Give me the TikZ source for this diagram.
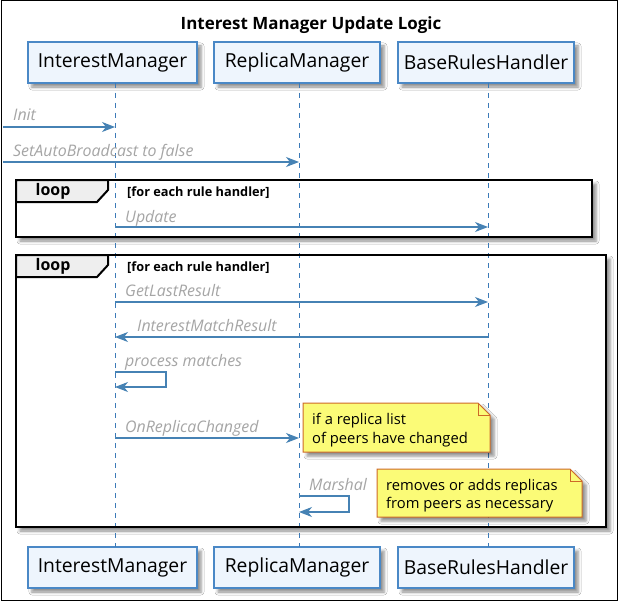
\documentclass[tikz,border=0pt]{standalone}
\usepackage{fontspec}
\setmainfont{Open Sans}
\usetikzlibrary{arrows.meta,shadows.blur}
\definecolor{partfill}{RGB}{238,245,253}
\definecolor{partborder}{RGB}{74,136,198}
\definecolor{lifec}{RGB}{60,122,184}
\definecolor{arrowc}{RGB}{70,130,180}
\definecolor{lblgray}{RGB}{165,165,165}
\definecolor{notefill}{RGB}{251,251,119}
\definecolor{noteborder}{RGB}{205,105,40}
\definecolor{tabfill}{RGB}{238,238,238}
\begin{document}
\begin{tikzpicture}[x=1bp,y={(0bp,-1bp)},
  partbox/.style={draw=partborder, line width=1.2bp, fill=partfill, minimum width=#1, minimum height=41bp, inner sep=0pt,
    font=\fontsize{19.4}{23}\selectfont,
    blur shadow={shadow xshift=4bp, shadow yshift=-4bp, shadow blur radius=3bp, shadow opacity=45}},
  lifeline/.style={draw=lifec, line width=1bp, dash pattern=on 5bp off 5bp},
  msg/.style={draw=arrowc, line width=1.1bp, -{Stealth[length=13bp,width=10bp,inset=4bp]}},
  lbl/.style={font=\fontsize{16}{19}\selectfont\itshape, text=lblgray, anchor=base west, inner sep=0pt},
  framebox/.style={fill=white, blur shadow={shadow xshift=4bp, shadow yshift=-4bp, shadow blur radius=3bp, shadow opacity=45}},
  frameline/.style={draw=black, line width=2.6bp},
  tabshape/.style={fill=tabfill, draw=black, line width=2bp},
  looplbl/.style={font=\fontsize{16}{19}\bfseries\selectfont, inner sep=0pt},
  guardlbl/.style={font=\fontsize{12.8}{15}\bfseries\selectfont, anchor=base west, inner sep=0pt},
  noteshape/.style={fill=notefill, draw=noteborder, line width=1bp,
    blur shadow={shadow xshift=4bp, shadow yshift=-4bp, shadow blur radius=3bp, shadow opacity=45}},
  notetext/.style={font=\fontsize{14.8}{18}\selectfont, anchor=base west, inner sep=0pt}
]
\useasboundingbox (0,0) rectangle (618,601);
\fill[white] (0,0) rectangle (618,601);
\draw[black, line width=1bp] (1,1) rectangle (617,600);

% title
\node[font=\fontsize{17}{20}\bfseries\selectfont, anchor=base, inner sep=0pt] (title) at (311,29.5) {Interest Manager Update Logic};

% frames (background + shadow)
\path[framebox] (16,180) rectangle (592,237);
\path[framebox] (16,255) rectangle (606,527);

% participants
\node[partbox=169bp] (p1t) at (112.5,62.5) {InterestManager};
\node[partbox=166bp] (p2t) at (297,62.5) {ReplicaManager};
\node[partbox=176bp] (p3t) at (486,62.5) {BaseRulesHandler};
\node[partbox=169bp] (p1b) at (112.5,567.5) {InterestManager};
\node[partbox=166bp] (p2b) at (297,567.5) {ReplicaManager};
\node[partbox=176bp] (p3b) at (486,567.5) {BaseRulesHandler};

% lifelines
\coordinate (l1t) at (115,83); \coordinate (l1b) at (115,547);
\coordinate (l2t) at (299,83); \coordinate (l2b) at (299,547);
\coordinate (l3t) at (488,83); \coordinate (l3b) at (488,547);
\draw[lifeline] (l1t) -- (l1b);
\draw[lifeline] (l2t) -- (l2b);
\draw[lifeline] (l3t) -- (l3b);

% frame borders and tabs
\draw[frameline] (16,180) rectangle (592,237);
\draw[tabshape] (16,180) -- (108,180) -- (108,190) -- (97,202) -- (16,202) -- cycle;
\node[looplbl] (loop1) at (53,191) {loop};
\node[guardlbl] (guard1) at (127,196) {[for each rule handler]};

\draw[frameline] (16,255) rectangle (606,527);
\draw[tabshape] (16,255) -- (108,255) -- (108,265) -- (97,277) -- (16,277) -- cycle;
\node[looplbl] (loop2) at (53,266) {loop};
\node[guardlbl] (guard2) at (127,271) {[for each rule handler]};

% messages
\coordinate (m1s) at (3,127); \coordinate (m1e) at (115,127);
\draw[msg] (m1s) -- (m1e);
\node[lbl] (t1) at (13,121) {Init};

\coordinate (m2s) at (3,162); \coordinate (m2e) at (299,162);
\draw[msg] (m2s) -- (m2e);
\node[lbl] (t2) at (13,157) {SetAutoBroadcast to false};

\coordinate (m3s) at (115,227); \coordinate (m3e) at (488,227);
\draw[msg] (m3s) -- (m3e);
\node[lbl] (t3) at (125,222) {Update};

\coordinate (m4s) at (115,302); \coordinate (m4e) at (488,302);
\draw[msg] (m4s) -- (m4e);
\node[lbl] (t4) at (125,296) {GetLastResult};

\coordinate (m5s) at (488,337); \coordinate (m5e) at (115,337);
\draw[msg] (m5s) -- (m5e);
\node[lbl] (t5) at (137,331) {InterestMatchResult};

\coordinate (m6s) at (115,372); \coordinate (m6e) at (115,387);
\draw[msg] (m6s) -- (166,372) -- (166,387) -- (m6e);
\node[lbl] (t6) at (125,366) {process matches};

\coordinate (m7s) at (115,438); \coordinate (m7e) at (299,438);
\draw[msg] (m7s) -- (m7e);
\node[lbl] (t7) at (125,432) {OnReplicaChanged};

\coordinate (m8s) at (299,496); \coordinate (m8e) at (299,512);
\draw[msg] (m8s) -- (349,496) -- (349,512) -- (m8e);
\node[lbl] (t8) at (309,490) {Marshal};

% notes
\path[noteshape] (303,403) -- (478,403) -- (490,415) -- (490,452) -- (303,452) -- cycle;
\draw[noteborder, line width=1bp] (478,403) -- (478,415) -- (490,415);
\node[notetext] (n1a) at (312,424) {if a replica list};
\node[notetext] (n1b) at (312,443) {of peers have changed};

\path[noteshape] (377,469) -- (570,469) -- (582,481) -- (582,517) -- (377,517) -- cycle;
\draw[noteborder, line width=1bp] (570,469) -- (570,481) -- (582,481);
\node[notetext] (n2a) at (386,490) {removes or adds replicas};
\node[notetext] (n2b) at (386,508) {from peers as necessary};
\end{tikzpicture}
\end{document}
